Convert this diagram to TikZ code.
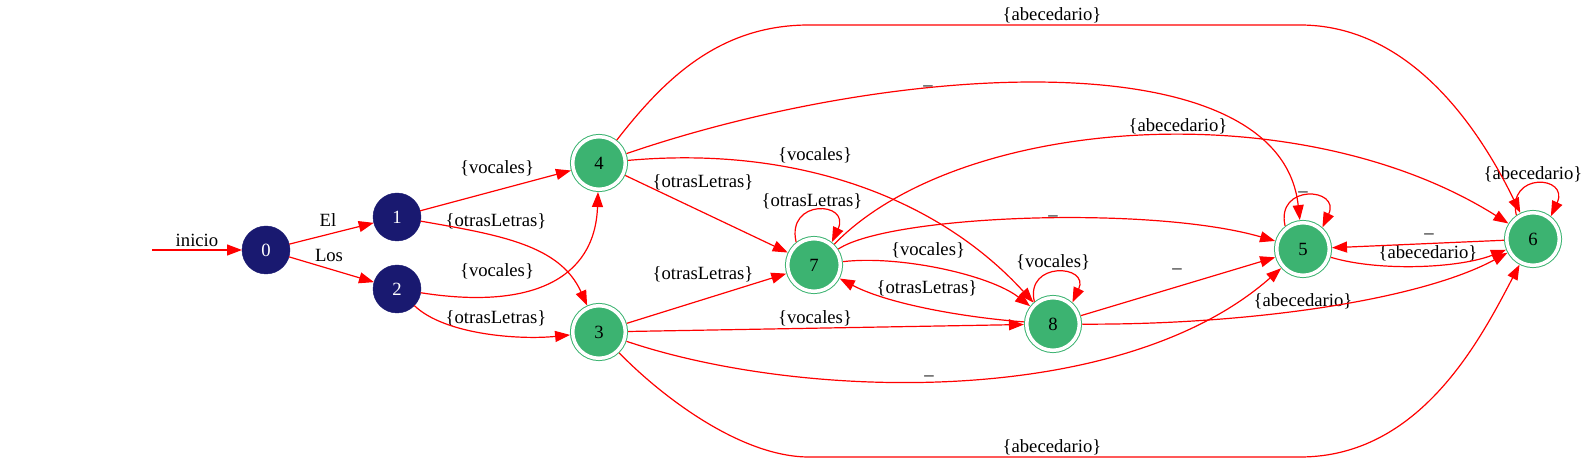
\documentclass[tikz,border=0pt]{standalone}
\usepackage{fontspec}
\setmainfont{Liberation Serif}
\usetikzlibrary{arrows.meta}
\definecolor{midnight}{HTML}{191970}
\definecolor{seagreen}{HTML}{3CB371}

\begin{document}
\begin{tikzpicture}[x=1pt, y=1pt, font=\fontsize{18.67}{20}\selectfont,
 st/.style={circle, draw=midnight, fill=midnight, text=white, minimum size=48pt, inner sep=0pt, outer sep=0pt},
 acc/.style={circle, draw=seagreen, fill=seagreen, line width=1pt, double=white, double distance=3.5pt, minimum size=52.6pt, inner sep=0pt, outer sep=2.75pt},
 tr/.style={draw=red, line width=1.2pt, -{Triangle[length=15pt, width=11pt]}},
 lab/.style={inner sep=0pt}]
\useasboundingbox (0,0) rectangle (1589,463);
\coordinate (init) at (152,213);
\node[st] (q0) at (266,213) {0};
\node[st] (q1) at (397,246) {1};
\node[st] (q2) at (397,174) {2};
\node[acc] (q4) at (599,300) {4};
\node[acc] (q3) at (599,131) {3};
\node[acc] (q7) at (814,198) {7};
\node[acc] (q8) at (1053,139) {8};
\node[acc] (q5) at (1303,214) {5};
\node[acc] (q6) at (1533,224) {6};
\node[lab] (l00) at (197,223) {inicio};
\node[lab] (l01) at (328,243) {El};
\node[lab] (l02) at (329,208) {Los};
\node[lab] (l14) at (497,295) {\{vocales\}};
\node[lab] (l13) at (496,242) {\{otrasLetras\}};
\node[lab] (l24) at (497,192) {\{vocales\}};
\node[lab] (l23) at (496,145) {\{otrasLetras\}};
\node[lab] (l46) at (1052,448) {\{abecedario\}};
\node[lab, anchor=base] (l45) at (928,378) {\_};
\node[lab] (l48) at (815,308) {\{vocales\}};
\node[lab] (l47) at (703,281) {\{otrasLetras\}};
\node[lab] (l37) at (703,189) {\{otrasLetras\}};
\node[lab] (l38) at (815,145) {\{vocales\}};
\node[lab, anchor=base] (l35) at (929,88) {\_};
\node[lab] (l36) at (1052,16) {\{abecedario\}};
\node[lab] (l77) at (812,262) {\{otrasLetras\}};
\node[lab, anchor=base] (l75) at (1053,248) {\_};
\node[lab] (l76) at (1178,337) {\{abecedario\}};
\node[lab] (l78) at (928,213) {\{vocales\}};
\node[lab] (l87) at (927,175) {\{otrasLetras\}};
\node[lab] (l88) at (1053,201) {\{vocales\}};
\node[lab, anchor=base] (l85) at (1177,195) {\_};
\node[lab] (l86) at (1303,162) {\{abecedario\}};
\node[lab, anchor=base] (l55) at (1303,272) {\_};
\node[lab] (l56) at (1428,210) {\{abecedario\}};
\node[lab, anchor=base] (l65) at (1429,230) {\_};
\node[lab] (l66) at (1533,289) {\{abecedario\}};
\draw[tr] (init) -- (q0);
\draw[tr] (q0) -- (q1);
\draw[tr] (q0) -- (q2);
\draw[tr] (q1) -- (q4);
\draw[tr] (q1) .. controls (500,228) and (560,218) .. (q3);
\draw[tr] (q2) .. controls (530,153) and (595,183) .. (q4);
\draw[tr] (q2) .. controls (445,128) and (520,123) .. (q3);
\draw[tr] (q4) .. controls (665,385) and (720,438) .. (809,438) -- (1300,438) .. controls (1400,438) and (1470,353) .. (q6);
\draw[tr] (q4) .. controls (900,403) and (1280,423) .. (q5);
\draw[tr] (q4) .. controls (800,318) and (940,263) .. (q8);
\draw[tr] (q4) -- (q7);
\draw[tr] (q3) -- (q7);
\draw[tr] (q3) -- (q8);
\draw[tr] (q3) .. controls (800,63) and (1120,53) .. (q5);
\draw[tr] (q3) .. controls (660,68) and (740,6) .. (809,6) -- (1300,6) .. controls (1420,6) and (1480,123) .. (q6);
\draw[tr] (q7.128) .. controls +(103:45) and +(65:45) .. (q7.52);
\draw[tr] (q7) .. controls (890,248) and (1150,258) .. (q5);
\draw[tr] (q7) .. controls (960,348) and (1300,371) .. (q6);
\draw[tr] (q7) .. controls (900,208) and (990,188) .. (q8);
\draw[tr] (q8) .. controls (970,145) and (890,158) .. (q7);
\draw[tr] (q8.130) .. controls +(103:42) and +(65:42) .. (q8.48);
\draw[tr] (q8) -- (q5);
\draw[tr] (q8) .. controls (1250,138) and (1420,163) .. (q6);
\draw[tr] (q5.128) .. controls +(103:44) and +(65:44) .. (q5.48);
\draw[tr] (q5) .. controls (1380,191) and (1460,195) .. (q6);
\draw[tr] (q6) -- (q5);
\draw[tr] (q6.125) .. controls +(103:45) and +(65:45) .. (q6.52);
\end{tikzpicture}
\end{document}
